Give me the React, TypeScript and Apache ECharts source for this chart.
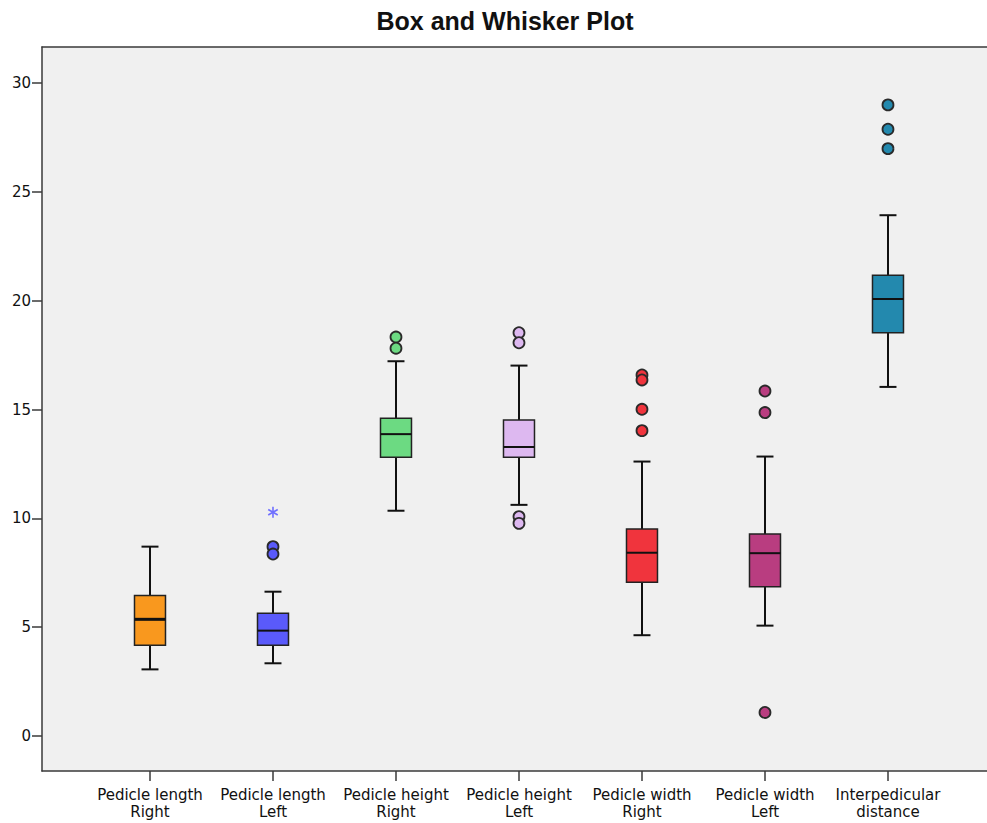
import React, { useEffect, useRef } from 'react';
import * as echarts from 'echarts';

const categories = [
  'Pedicle length\nRight',
  'Pedicle length\nLeft',
  'Pedicle height\nRight',
  'Pedicle height\nLeft',
  'Pedicle width\nRight',
  'Pedicle width\nLeft',
  'Interpedicular\ndistance',
];
const whiskerLow = [3.06, 3.34, 10.35, 10.62, 4.63, 5.07, 16.04];
const q1 = [4.17, 4.17, 12.81, 12.81, 7.06, 6.86, 18.53];
const median = [5.36, 4.84, 13.87, 13.28, 8.42, 8.4, 20.08];
const q3 = [6.45, 5.64, 14.6, 14.52, 9.51, 9.28, 21.17];
const whiskerHigh = [8.7, 6.63, 17.22, 17.02, 12.61, 12.84, 23.93];

const outlierCategory = [1, 1, 2, 2, 3, 3, 3, 3, 4, 4, 4, 4, 5, 5, 5, 6, 6, 6];
const outlierValue = [8.7, 8.36, 18.33, 17.82, 18.53, 18.07, 10.08, 9.77, 16.59, 16.36, 15.01, 14.03, 15.85, 14.86, 1.08, 29.0, 27.88, 26.99];

const extremeCategory = [1];
const extremeValue = [10.28];

const yTicks = [0, 5, 10, 15, 20, 25, 30];
const xTicks = [0, 1, 2, 3, 4, 5, 6];

const colors = ['#F9981E', '#5A5AFB', '#6CDA82', '#DDB8F0', '#F0343D', '#B93D80', '#2389AE'];

const FONT = 'DejaVu Sans';
const X_MIN = -0.878;
const X_MAX = 6.805;

export default function App() {
  const ref = useRef<HTMLDivElement>(null);

  useEffect(() => {
    document.body.style.margin = '0';
    const chart = echarts.init(ref.current!, null, { renderer: 'svg' });

    const boxRows = categories.map((_, i) => [i, whiskerLow[i], q1[i], median[i], q3[i], whiskerHigh[i]]);
    const outlierRows = outlierCategory.map((c, k) => ({
      value: [c, outlierValue[k]],
      itemStyle: { color: colors[c] },
    }));
    const extremeRows = extremeCategory.map((c, k) => [c, extremeValue[k]]);

    const axisLineStyle = { color: '#3a3a3a', width: 1.5 };

    const option: any = {
      animation: false,
      backgroundColor: '#ffffff',
      graphic: [
        {
          type: 'text',
          x: 505,
          y: 21,
          style: {
            text: 'Box and Whisker Plot',
            font: 'bold 25px "Liberation Sans", Arial, sans-serif',
            fill: '#111',
            align: 'center',
            verticalAlign: 'middle',
          },
        },
      ],
      grid: {
        left: 42,
        top: 47,
        width: 945,
        height: 724,
        show: true,
        backgroundColor: '#F0F0F0',
        borderWidth: 0,
      },
      xAxis: [
        {
          type: 'value',
          min: X_MIN,
          max: X_MAX,
          splitLine: { show: false },
          axisLine: { show: true, onZero: false, lineStyle: axisLineStyle },
          axisTick: { show: true, customValues: xTicks, length: 10, lineStyle: axisLineStyle },
          axisLabel: {
            customValues: xTicks,
            formatter: (v: number) => categories[Math.round(v)] ?? '',
            fontFamily: FONT,
            fontSize: 15,
            lineHeight: 17,
            color: '#111',
            margin: 15,
          },
        },
        {
          type: 'value',
          position: 'top',
          min: X_MIN,
          max: X_MAX,
          splitLine: { show: false },
          axisLine: { show: true, onZero: false, lineStyle: axisLineStyle },
          axisTick: { show: false },
          axisLabel: { show: false },
        },
      ],
      yAxis: {
        type: 'value',
        min: -1.61,
        max: 31.66,
        splitLine: { show: false },
        axisLine: { show: true, onZero: false, lineStyle: axisLineStyle },
        axisTick: { show: true, customValues: yTicks, length: 10, lineStyle: axisLineStyle },
        axisLabel: {
          customValues: yTicks,
          fontFamily: FONT,
          fontSize: 15,
          color: '#111',
          margin: 11,
        },
      },
      series: [
        {
          type: 'custom',
          data: boxRows,
          encode: { x: 0, y: [1, 2, 3, 4, 5] },
          renderItem: (params: any, api: any) => {
            const x = api.value(0);
            const idx = params.dataIndex;
            const pLow = api.coord([x, api.value(1)]);
            const pQ1 = api.coord([x, api.value(2)]);
            const pMed = api.coord([x, api.value(3)]);
            const pQ3 = api.coord([x, api.value(4)]);
            const pHigh = api.coord([x, api.value(5)]);
            const boxW = api.size([0.252, 0])[0];
            const capW = api.size([0.138, 0])[0];
            const cx = pMed[0];
            const line = (x1: number, y1: number, x2: number, y2: number, w: number) => ({
              type: 'line',
              shape: { x1, y1, x2, y2 },
              style: { stroke: '#111', lineWidth: w },
            });
            return {
              type: 'group',
              children: [
                line(cx, pQ3[1], cx, pHigh[1], 2),
                line(cx, pQ1[1], cx, pLow[1], 2),
                line(cx - capW / 2, pHigh[1], cx + capW / 2, pHigh[1], 2),
                line(cx - capW / 2, pLow[1], cx + capW / 2, pLow[1], 2),
                {
                  type: 'rect',
                  shape: { x: cx - boxW / 2, y: pQ3[1], width: boxW, height: pQ1[1] - pQ3[1] },
                  style: { fill: colors[idx], stroke: '#222', lineWidth: 1.5 },
                },
                line(cx - boxW / 2, pMed[1], cx + boxW / 2, pMed[1], idx === 0 ? 3 : 2),
              ],
            };
          },
          z: 2,
        },
        {
          type: 'scatter',
          data: outlierRows,
          symbol: 'circle',
          symbolSize: 11,
          itemStyle: { borderColor: '#2a2a2a', borderWidth: 1.8, opacity: 1 },
          z: 3,
        },
        {
          type: 'custom',
          data: extremeRows,
          encode: { x: 0, y: 1 },
          renderItem: (params: any, api: any) => {
            const p = api.coord([api.value(0), api.value(1)]);
            const r = 5.5;
            const children: any[] = [];
            for (let k = 0; k < 3; k++) {
              const a = Math.PI / 2 + (k * Math.PI) / 3;
              children.push({
                type: 'line',
                shape: {
                  x1: p[0] - r * Math.cos(a),
                  y1: p[1] - r * Math.sin(a),
                  x2: p[0] + r * Math.cos(a),
                  y2: p[1] + r * Math.sin(a),
                },
                style: { stroke: '#6F6FFF', lineWidth: 1.6 },
              });
            }
            return { type: 'group', children };
          },
          z: 3,
        },
      ],
    };

    chart.setOption(option);
    return () => chart.dispose();
  }, []);

  return (
    <div
      ref={ref}
      style={{ position: 'fixed', left: 0, top: 0, width: 987, height: 823 }}
    />
  );
}
